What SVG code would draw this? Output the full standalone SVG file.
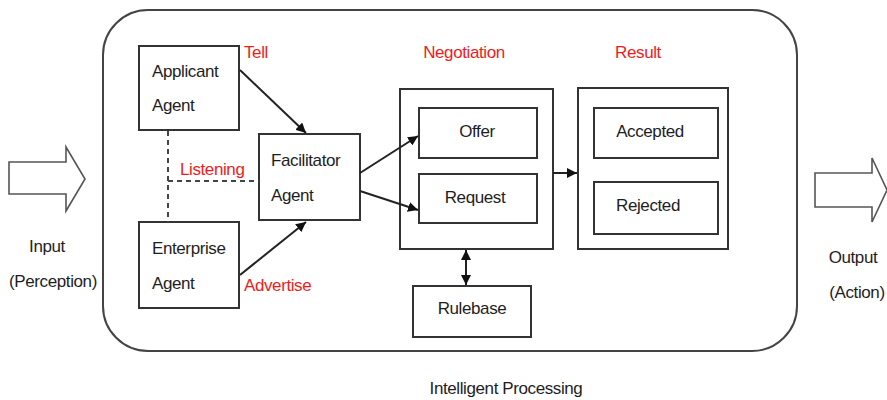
<svg xmlns="http://www.w3.org/2000/svg" width="887" height="400" viewBox="0 0 887 400">
<defs>
<marker id="ah" viewBox="0 0 10 10" refX="10" refY="5" markerWidth="10" markerHeight="10" markerUnits="userSpaceOnUse" orient="auto-start-reverse">
<path d="M0,0 L10,5 L0,10 z" fill="#111"/>
</marker>
<style>
.box{fill:#fff;stroke:#333;stroke-width:2}
.frame{fill:none;stroke:#333;stroke-width:2}
.t{font-family:"Liberation Sans",Arial,sans-serif;font-size:17px;letter-spacing:-0.4px;fill:#1e1e1e}
.r{font-family:"Liberation Sans",Arial,sans-serif;font-size:17px;letter-spacing:-0.4px;fill:#f01c1c}
.ln{stroke:#222;stroke-width:2;fill:none}
.dash{stroke:#444;stroke-width:2;fill:none;stroke-dasharray:5,4}
.bigarrow{fill:#fff;stroke:#555;stroke-width:1.6}
</style>
</defs>
<rect width="887" height="400" fill="#fff"/>
<g id="container">
<rect x="103" y="10" width="694" height="341" rx="45" ry="45" fill="#fff" stroke="#444" stroke-width="2"/>
<text class="t" x="506" y="394" text-anchor="middle">Intelligent Processing</text>
</g>
<g id="input">
<path class="bigarrow" d="M9,162 L66,162 L66,147 L85,179 L66,211 L66,194 L9,194 Z"/>
<text class="t" x="47" y="252" text-anchor="middle">Input</text>
<text class="t" x="53" y="287" text-anchor="middle">(Perception)</text>
</g>
<g id="output">
<path class="bigarrow" d="M815,173 L872,173 L872,158 L887,190 L872,222 L872,207 L815,207 Z"/>
<text class="t" x="853" y="263" text-anchor="middle">Output</text>
<text class="t" x="857" y="298" text-anchor="middle">(Action)</text>
</g>
<g id="applicant">
<rect class="box" x="139" y="46" width="100" height="84"/>
<text class="t" x="152" y="77">Applicant</text>
<text class="t" x="152" y="111">Agent</text>
</g>
<g id="enterprise">
<rect class="box" x="139" y="222" width="100" height="86"/>
<text class="t" x="152" y="254">Enterprise</text>
<text class="t" x="152" y="289">Agent</text>
</g>
<g id="facilitator">
<rect class="box" x="259" y="134" width="101" height="86"/>
<text class="t" x="271" y="166">Facilitator</text>
<text class="t" x="271" y="201">Agent</text>
</g>
<g id="negotiation">
<text class="r" x="464" y="58" text-anchor="middle">Negotiation</text>
<rect class="frame" x="400" y="89" width="153" height="160"/>
</g>
<g id="offer">
<rect class="box" x="419" y="108" width="118" height="50"/>
<text class="t" x="477" y="137" text-anchor="middle">Offer</text>
</g>
<g id="request">
<rect class="box" x="419" y="174" width="118" height="49"/>
<text class="t" x="475" y="203" text-anchor="middle">Request</text>
</g>
<g id="result">
<text class="r" x="638" y="58" text-anchor="middle">Result</text>
<rect class="frame" x="578" y="88" width="150" height="161"/>
</g>
<g id="accepted">
<rect class="box" x="594" y="108" width="124" height="50"/>
<text class="t" x="650" y="137" text-anchor="middle">Accepted</text>
</g>
<g id="rejected">
<rect class="box" x="594" y="182" width="124" height="52"/>
<text class="t" x="648" y="211" text-anchor="middle">Rejected</text>
</g>
<g id="rulebase">
<rect class="box" x="413" y="286" width="118" height="51"/>
<text class="t" x="472" y="314" text-anchor="middle">Rulebase</text>
</g>
<g id="connectors">
<line class="ln" x1="240" y1="70" x2="306" y2="133" marker-end="url(#ah)"/>
<line class="ln" x1="240" y1="275" x2="306" y2="222" marker-end="url(#ah)"/>
<line class="dash" x1="168" y1="131" x2="168" y2="222"/>
<line class="dash" x1="168" y1="181" x2="259" y2="181"/>
<line class="ln" x1="360" y1="173" x2="418" y2="136" marker-end="url(#ah)"/>
<line class="ln" x1="360" y1="191" x2="418" y2="210" marker-end="url(#ah)"/>
<line class="ln" x1="553" y1="173" x2="577" y2="173" marker-end="url(#ah)"/>
<line class="ln" x1="466" y1="250" x2="466" y2="285" marker-start="url(#ah)" marker-end="url(#ah)"/>
<text class="r" x="244" y="58">Tell</text>
<text class="r" x="180" y="175">Listening</text>
<text class="r" x="244" y="291">Advertise</text>
</g>
</svg>
